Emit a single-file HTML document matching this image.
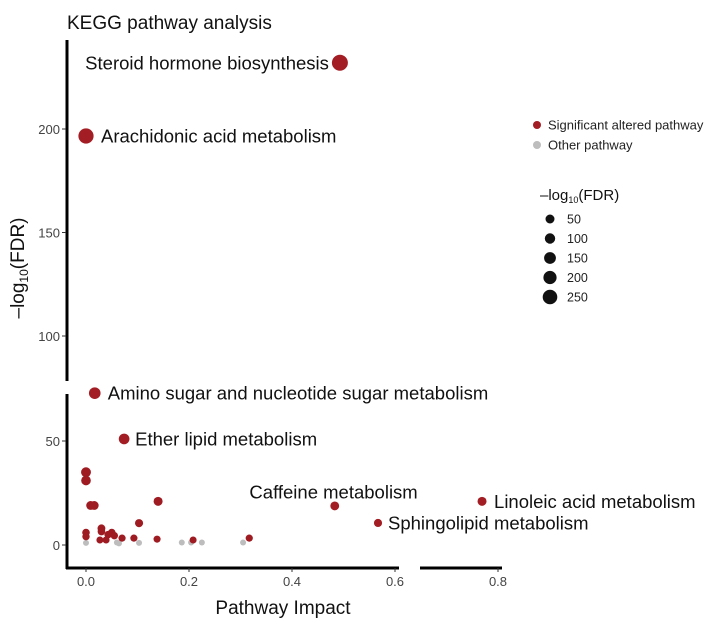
<!DOCTYPE html>
<html><head><meta charset="utf-8"><style>
body{margin:0;background:#fff;}
svg text{font-family:"Liberation Sans",sans-serif;}
</style></head><body>
<svg id="chart" width="715" height="637" viewBox="0 0 715 637" xmlns="http://www.w3.org/2000/svg">
<text x="67" y="29" font-size="19" fill="#111">KEGG pathway analysis</text>
<text transform="translate(24,268) rotate(-90)" text-anchor="middle" font-size="19" fill="#111">–log<tspan font-size="12" dy="4">10</tspan><tspan dy="-4">(FDR)</tspan></text>
<text x="283" y="614" text-anchor="middle" font-size="19" fill="#111">Pathway Impact</text>
<g id="axes"></g>
<g id="points"></g>
<g id="labels"></g>
<g>
<circle cx="537" cy="125" r="4" fill="#a31e24"/>
<text x="548" y="129.5" font-size="13" fill="#222">Significant altered pathway</text>
<circle cx="537" cy="145" r="4" fill="#bdbdbd"/>
<text x="548" y="149.5" font-size="13" fill="#222">Other pathway</text>
<text x="540" y="200" font-size="15" fill="#111">–log<tspan font-size="9" dy="3">10</tspan><tspan dy="-3">(FDR)</tspan></text>
<g id="sizeLegend"></g>
</g>
</svg>
<script>
const names=["Steroid hormone biosynthesis","Arachidonic acid metabolism","Amino sugar and nucleotide sugar metabolism","Ether lipid metabolism","Caffeine metabolism","Linoleic acid metabolism","Sphingolipid metabolism"];
const labImpact=[0.493,0.0,0.017,0.074,0.483,0.769,0.567];
const labFDR=[232,196.6,73,51,18.8,21,10.6];
const sigImpact=[0.0,0.0,0.009,0.016,0.14,0.103,0.03,0.03,0.05,0.043,0.055,0.0,0.0,0.027,0.039,0.07,0.093,0.138,0.208,0.317];
const sigFDR=[35,31,19,19,21,10.5,8,6.5,6,5,4.5,6,4,2.4,2.4,3.3,3.3,2.8,2.4,3.3];
const otherImpact=[0.0,0.06,0.064,0.103,0.186,0.204,0.225,0.305];
const otherFDR=[1,1.2,0.8,1,1.2,1.2,1.2,1.2];
const xTicks=[0,0.2,0.4,0.6,0.8];
const xTickLabels=["0.0","0.2","0.4","0.6","0.8"];
const yTicksBottom=[0,50];
const yTicksTop=[100,150,200];
const sizeVals=[50,100,150,200,250];

const NS="http://www.w3.org/2000/svg";
function X(v){return 86+v*515;}
function Y(v){return v>=85?129-(v-200)*2.07:545-v*2.08;}
function R(v){return 3+5*Math.sqrt(v/232);}
function mk(tag,attrs,parent){const e=document.createElementNS(NS,tag);for(const k in attrs)e.setAttribute(k,attrs[k]);parent.appendChild(e);return e;}
const axes=document.getElementById('axes');
let l;
l=mk('line',{x1:67,y1:40,x2:67,y2:381,stroke:'#000','stroke-width':3},axes);


l=mk('line',{x1:67,y1:394,x2:67,y2:569,stroke:'#000','stroke-width':3},axes);


l=mk('line',{x1:66,y1:568,x2:399,y2:568,stroke:'#000','stroke-width':3},axes);


l=mk('line',{x1:420,y1:568,x2:502,y2:568,stroke:'#000','stroke-width':3},axes);


xTicks.forEach((t,i)=>{
 const tk=mk('line',{x1:X(t),y1:568,x2:X(t),y2:572,stroke:'#333','stroke-width':1},axes);
 
 
 const tx=mk('text',{x:X(t),y:586,'text-anchor':'middle','font-size':13,fill:'#444'},axes);
 tx.textContent=xTickLabels[i];
 
 
});
yTicksBottom.concat(yTicksTop).forEach(t=>{
 const tk=mk('line',{x1:62,y1:Y(t),x2:66,y2:Y(t),stroke:'#333','stroke-width':1},axes);
 
 
 const tx=mk('text',{x:60,y:Y(t)+5,'text-anchor':'end','font-size':13,fill:'#444'},axes);
 tx.textContent=String(t);
 
 
});
const pts=document.getElementById('points');
otherImpact.forEach((v,i)=>{
 const c=mk('circle',{cx:X(v),cy:Y(otherFDR[i]),r:3,fill:'#bdbdbd'},pts);
 
 
});
sigImpact.forEach((v,i)=>{
 const c=mk('circle',{cx:X(v),cy:Y(sigFDR[i]),r:R(sigFDR[i]),fill:'#9e1b22'},pts);
 
 
});
const labs=document.getElementById('labels');
const anchors=['end','start','start','start','end','start','start'];
const dxs=[-11,15,13,11,83,12,10];
labImpact.forEach((v,i)=>{
 const cx=X(v),cy=Y(labFDR[i]);
 const c=mk('circle',{cx:cx,cy:cy,r:R(labFDR[i]),fill:'#a31e24'},pts);
 
 
 const ly=i===4?cy-14:cy;
 const t=mk('text',{x:cx+dxs[i],y:ly+6.5,'text-anchor':anchors[i],'font-size':18.5,fill:'#111'},labs);
 t.textContent=names[i];
 
 
});
const sl=document.getElementById('sizeLegend');
sizeVals.forEach((v,i)=>{
 const y=219+i*19.5;
 const c=mk('circle',{cx:550,cy:y,r:4.5+i*0.7,fill:'#111'},sl);
 
 
 const t=mk('text',{x:567,y:y+4.5,'font-size':12.5,fill:'#222'},sl);
 t.textContent=String(v);
 
 
});
</script>
</body></html>
